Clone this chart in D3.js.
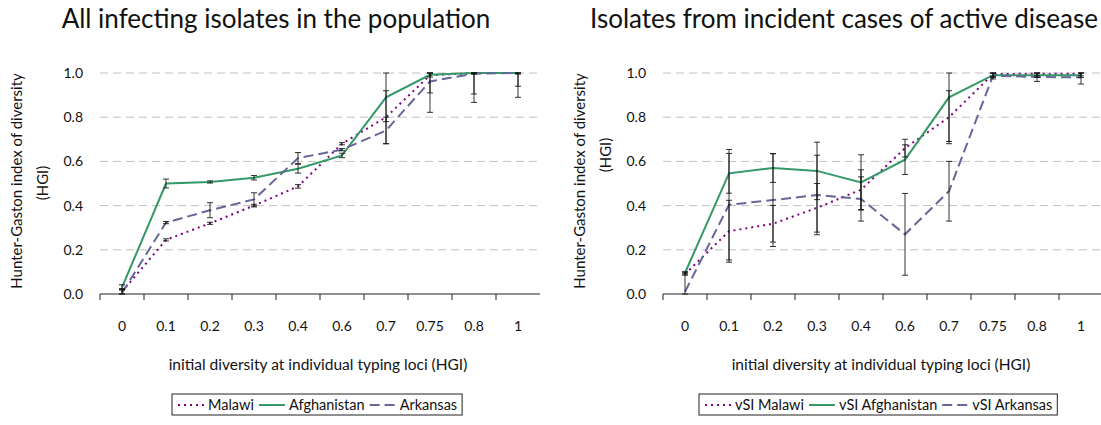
<!DOCTYPE html>
<html>
<head>
  <title>HGI diversity</title>
  <script src="https://d3js.org/d3.v7.min.js"></script>
  <style>
    body { margin: 0; background: #fff; }
    text { font-family: Lato, "Open Sans", sans-serif; fill: #111; }
  </style>
</head>
<body>
<svg width="1101" height="425"></svg>
<script>
  const categories = ["0", "0.1", "0.2", "0.3", "0.4", "0.6", "0.7", "0.75", "0.8", "1"];
  const yTicks = [0, 0.2, 0.4, 0.6, 0.8, 1.0];

  // left panel: all infecting isolates
  const malawiAll      = [0.01, 0.245, 0.32, 0.40, 0.487, 0.68, 0.80, 0.99, 1.0, 1.0];
  const afghanistanAll = [0.03, 0.50, 0.507, 0.526, 0.567, 0.627, 0.89, 0.992, 1.0, 1.0];
  const arkansasAll    = [0.005, 0.323, 0.379, 0.428, 0.615, 0.653, 0.74, 0.962, 0.997, 1.0];
  const malawiAllErr      = [0.01, 0.005, 0.005, 0.006, 0.008, 0.005, 0.12, 0.08, 0.095, 0.11];
  const afghanistanAllErr = [0.012, 0.02, 0.005, 0.01, 0.02, 0.01, 0.11, 0.01, 0.005, 0.005];
  const arkansasAllErr    = [0.02, 0.005, 0.034, 0.03, 0.025, 0.005, 0.06, 0.14, 0.13, 0.06];

  // right panel: incident cases (vSI)
  const malawiVsi      = [0.09, 0.284, 0.318, 0.39, 0.472, 0.66, 0.80, 0.995, 0.997, 0.997];
  const afghanistanVsi = [0.095, 0.546, 0.57, 0.557, 0.505, 0.608, 0.89, 0.99, 0.99, 0.99];
  const arkansasVsi    = [0.01, 0.404, 0.425, 0.448, 0.43, 0.27, 0.465, 0.988, 0.982, 0.98];
  const malawiVsiErr      = [0.005, 0.14, 0.083, 0.11, 0.09, 0.04, 0.12, 0.01, 0.01, 0.01];
  const afghanistanVsiErr = [0.005, 0.09, 0.065, 0.13, 0.125, 0.067, 0.2, 0.01, 0.01, 0.01];
  const arkansasVsiErr    = [0.09, 0.25, 0.21, 0.18, 0.1, 0.185, 0.135, 0.015, 0.02, 0.03];

  const styles = {
    malawi:      { color: "#800080", dash: "2,4" },
    afghanistan: { color: "#339966", dash: null },
    arkansas:    { color: "#666699", dash: "10,5" }
  };

  const svg = d3.select("svg");

  function drawPanel(opt) {
    const g = svg.append("g");
    const x = d3.scaleBand().domain(categories).range([opt.left, opt.left + 440]);
    const y = d3.scaleLinear().domain([0, 1]).range([294, 73]);
    const cx = d => x(d) + x.bandwidth() / 2;

    // title
    g.append("text")
      .attr("x", opt.titleX).attr("y", 28)
      .attr("text-anchor", "middle")
      .style("font-size", "26px")
      .text(opt.title);

    // gridlines
    g.append("g").selectAll("line")
      .data(yTicks.slice(1))
      .enter().append("line")
      .attr("x1", opt.left).attr("x2", opt.gridEnd)
      .attr("y1", d => y(d)).attr("y2", d => y(d))
      .attr("stroke", "#c0c0c0")
      .attr("stroke-dasharray", "8,5");

    // y axis (labels only)
    const yAxis = g.append("g")
      .attr("transform", `translate(${opt.left - 14},0)`)
      .call(d3.axisLeft(y).tickValues(yTicks).tickFormat(d3.format(".1f")).tickSize(0));
    yAxis.select(".domain").remove();
    yAxis.selectAll("text").style("font-size", "14px").style("font-family", "Lato, sans-serif").attr("fill", "#111");

    // x axis
    const xAxis = g.append("g")
      .attr("transform", "translate(0,294)")
      .call(d3.axisBottom(x).tickSize(0).tickPadding(27));
    xAxis.select(".domain").remove();
    xAxis.selectAll("text").style("font-size", "14px").style("font-family", "Lato, sans-serif").attr("fill", "#111");
    g.append("line")
      .attr("x1", opt.left).attr("x2", opt.left + 440)
      .attr("y1", 294).attr("y2", 294)
      .attr("stroke", "#222");
    g.append("g").selectAll("line")
      .data(categories)
      .enter().append("line")
      .attr("x1", d => x(d)).attr("x2", d => x(d))
      .attr("y1", 294).attr("y2", 300)
      .attr("stroke", "#222");

    // axis titles
    g.append("text")
      .attr("x", opt.left + 218).attr("y", 370)
      .attr("text-anchor", "middle")
      .style("font-size", "15.5px")
      .text("initial diversity at individual typing loci (HGI)");
    g.append("text")
      .attr("transform", `translate(${opt.left - 78},181) rotate(-90)`)
      .attr("text-anchor", "middle")
      .style("font-size", "15px")
      .text("Hunter-Gaston index of diversity");
    g.append("text")
      .attr("transform", `translate(${opt.left - 52},${opt.hgiY}) rotate(-90)`)
      .attr("text-anchor", "middle")
      .style("font-size", "15px")
      .text("(HGI)");

    // lines
    const line = d3.line().x((d, i) => cx(categories[i])).y(d => y(d));
    opt.series.forEach(s => {
      g.append("path")
        .datum(s.values)
        .attr("d", line)
        .attr("fill", "none")
        .attr("stroke", styles[s.key].color)
        .attr("stroke-width", 2)
        .attr("stroke-dasharray", styles[s.key].dash);
    });

    // error bars
    opt.series.forEach(s => {
      const eb = g.append("g").selectAll("g")
        .data(s.values.map((v, i) => ({ c: categories[i], lo: Math.max(0, v - s.err[i]), hi: Math.min(1, v + s.err[i]) })))
        .enter().append("g")
        .attr("stroke", "#111")
        .attr("stroke-opacity", 0.85);
      eb.append("line")
        .attr("x1", d => cx(d.c)).attr("x2", d => cx(d.c))
        .attr("y1", d => y(d.lo)).attr("y2", d => y(d.hi));
      eb.append("line")
        .attr("x1", d => cx(d.c) - 3).attr("x2", d => cx(d.c) + 3)
        .attr("y1", d => y(d.lo)).attr("y2", d => y(d.lo));
      eb.append("line")
        .attr("x1", d => cx(d.c) - 3).attr("x2", d => cx(d.c) + 3)
        .attr("y1", d => y(d.hi)).attr("y2", d => y(d.hi));
    });

    // legend
    const lg = g.append("g").attr("transform", `translate(${opt.legendX},394)`);
    let px = 6;
    opt.series.forEach(s => {
      lg.append("line")
        .attr("x1", px).attr("x2", px + 26)
        .attr("y1", 11).attr("y2", 11)
        .attr("stroke", styles[s.key].color)
        .attr("stroke-width", 2)
        .attr("stroke-dasharray", styles[s.key].dash);
      const t = lg.append("text")
        .attr("x", px + 30).attr("y", 16)
        .style("font-size", "14.5px")
        .text(s.label);
      px += 30 + t.node().getComputedTextLength() + 5;
    });
    lg.insert("rect", ":first-child")
      .attr("x", 0).attr("y", 0)
      .attr("width", px).attr("height", 21)
      .attr("fill", "#fff")
      .attr("stroke", "#222");
  }

  drawPanel({
    left: 100, gridEnd: 540, titleX: 276, hgiY: 183, legendX: 172,
    title: "All infecting isolates in the population",
    series: [
      { key: "malawi", label: "Malawi", values: malawiAll, err: malawiAllErr },
      { key: "afghanistan", label: "Afghanistan", values: afghanistanAll, err: afghanistanAllErr },
      { key: "arkansas", label: "Arkansas", values: arkansasAll, err: arkansasAllErr }
    ]
  });

  drawPanel({
    left: 663, gridEnd: 1101, titleX: 844, hgiY: 155, legendX: 699,
    title: "Isolates from incident cases of active disease",
    series: [
      { key: "malawi", label: "vSI Malawi", values: malawiVsi, err: malawiVsiErr },
      { key: "afghanistan", label: "vSI Afghanistan", values: afghanistanVsi, err: afghanistanVsiErr },
      { key: "arkansas", label: "vSI Arkansas", values: arkansasVsi, err: arkansasVsiErr }
    ]
  });
</script>
</body>
</html>
